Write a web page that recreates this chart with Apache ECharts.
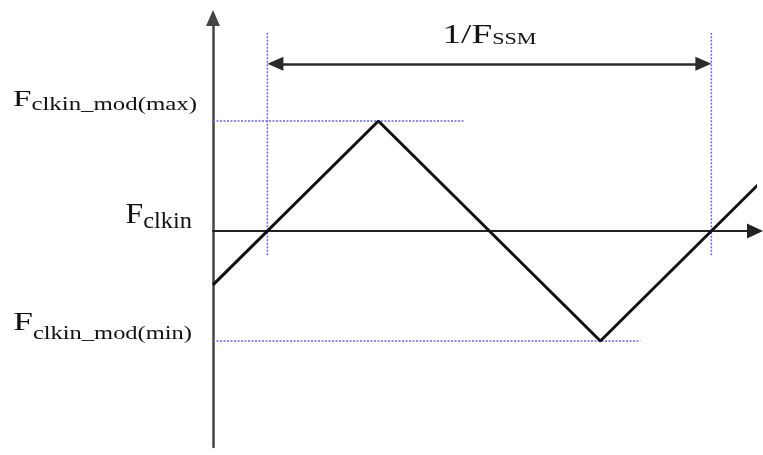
<!DOCTYPE html>
<html>
<head>
<meta charset="utf-8">
<script src="https://cdn.jsdelivr.net/npm/echarts@6/dist/echarts.min.js"></script>
<style>
  html, body { margin: 0; padding: 0; background: #fff; }
  #chart { width: 763px; height: 455px; }
</style>
</head>
<body>
<div id="chart"></div>
<script>
// triangle wave, x in quarter-periods, y in units of modulation depth
const waveT = [0, 1.49, 3.49, 4.93];
const waveF = [-0.49, 1, -1, 0.44];

// one modulation period (zero crossings)
const periodT = [0.49, 4.49];
const periodArrowF = 1.52;
const periodGuideF = [-0.22, 1.8];

// frequency levels on the y axis
const levelValues = [1, 0, -1];
const levelMain = ['F', 'F', 'F'];
const levelSubs = ['clkin_mod(max)', 'clkin', 'clkin_mod(min)'];
const levelGuideEnd = [2.27, null, 3.85];

const periodMain = '1/F';
const periodSub = 'SSM';

const X_MAX = 4.883, Y_MIN = -1.964, Y_MAX = 1.936;
const ARROW_INSET = 0.072;
const guideColor = '#6464ee';
const textColor = '#111';
const serif = '"Liberation Serif", "Times New Roman", serif';

let chart = echarts.init(document.getElementById('chart'));

function guide(points) {
  return {
    type: 'line',
    data: points,
    symbol: 'none',
    silent: true,
    z: 1,
    lineStyle: { color: guideColor, width: 1.5, type: [2, 1.5] }
  };
}

let series = [];
levelValues.forEach(function (v, i) {
  if (levelGuideEnd[i] != null) series.push(guide([[0, v], [levelGuideEnd[i], v]]));
});
periodT.forEach(function (t) {
  series.push(guide([[t, periodGuideF[0]], [t, periodGuideF[1]]]));
});

// the wave itself, with the period arrow as a markLine
series.push({
  type: 'line',
  data: waveT.map(function (t, i) { return [t, waveF[i]]; }),
  symbol: 'none',
  clip: false,
  z: 3,
  lineStyle: { color: '#111', width: 3 },
  markLine: {
    silent: true,
    symbol: ['triangle', 'triangle'],
    symbolSize: [14, 16],
    label: { show: false },
    lineStyle: { color: '#2a2a2a', width: 2.5, type: 'solid' },
    data: [[
      { coord: [periodT[0] + ARROW_INSET, periodArrowF] },
      { coord: [periodT[1] - ARROW_INSET, periodArrowF] }
    ]]
  }
});

chart.setOption({
  animation: false,
  grid: { left: 213, right: 8, top: 18, bottom: 8 },
  xAxis: {
    type: 'value',
    min: 0,
    max: X_MAX,
    axisLine: {
      onZero: true,
      symbol: ['none', 'triangle'],
      symbolSize: [15, 16],
      lineStyle: { color: '#222', width: 2 }
    },
    axisTick: { show: false },
    axisLabel: { show: false },
    splitLine: { show: false }
  },
  yAxis: {
    type: 'value',
    min: Y_MIN,
    max: Y_MAX,
    axisLine: {
      show: true,
      symbol: ['none', 'triangle'],
      symbolSize: [14, 16],
      lineStyle: { color: '#444', width: 2.5 }
    },
    axisTick: { show: false },
    axisLabel: { show: false },
    splitLine: { show: false }
  },
  series: series
});

// labels: placed at the axis values, stretched sideways like the original
const labelLook = [
  { fs: 24, ss: 18, fPb: 42, sPb: 32, gap: 16, sx: 1.38 },
  { fs: 30, ss: 23, fPb: 32, sPb: 18, gap: 21, sx: 1.06 },
  { fs: 26, ss: 18, fPb: 36, sPb: 14, gap: 21, sx: 1.36 }
];

function richText(x, y, align, sx, main, sub, look) {
  return {
    type: 'text',
    x: x,
    y: y,
    scaleX: sx,
    originX: 0,
    originY: 0,
    silent: true,
    style: {
      text: '{f|' + main + '}{s|' + sub + '}',
      align: align,
      textAlign: align,
      verticalAlign: 'middle',
      textVerticalAlign: 'middle',
      fill: textColor,
      rich: {
        f: { fontFamily: serif, fontSize: look.fs, fill: textColor, verticalAlign: 'middle', padding: [0, 0, look.fPb, 0] },
        s: { fontFamily: serif, fontSize: look.ss, fill: textColor, verticalAlign: 'middle', padding: [0, 0, look.sPb, 0] }
      }
    }
  };
}

let graphics = [];
levelValues.forEach(function (v, i) {
  let p = chart.convertToPixel({ xAxisIndex: 0, yAxisIndex: 0 }, [0, v]);
  let look = labelLook[i];
  graphics.push(richText(p[0] - look.gap, p[1], 'right', look.sx, levelMain[i], levelSubs[i], look));
});

let mid = chart.convertToPixel({ xAxisIndex: 0, yAxisIndex: 0 },
  [(periodT[0] + periodT[1]) / 2, periodArrowF]);
graphics.push(richText(mid[0], mid[1], 'center', 1.38, periodMain, periodSub,
  { fs: 27, ss: 16, fPb: 56, sPb: 47 }));

chart.setOption({ graphic: graphics });
</script>
</body>
</html>
